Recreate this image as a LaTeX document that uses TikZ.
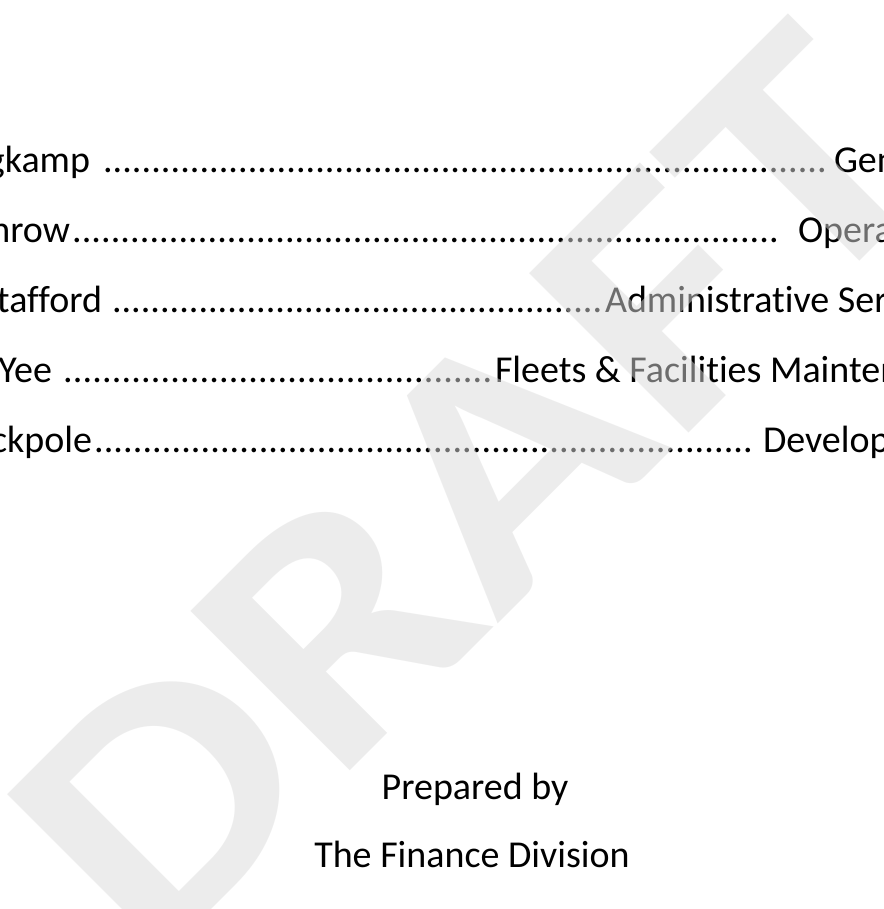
\documentclass[tikz,border=0pt]{standalone}
\usepackage{fontspec}
\setmainfont{Carlito}[Ligatures={NoCommon}]
\begin{document}
\begin{tikzpicture}[x=1pt,y=-1pt,
  txt/.style={inner sep=0pt,outer sep=0pt,font=\fontsize{38}{46}\selectfont,text=black},
  lead/.style={inner sep=0pt,outer sep=0pt,anchor=base west,font=\fontsize{38}{46}\selectfont},
  wmark/.style={inner sep=0pt,outer sep=0pt,rotate=45,xscale=1.04,yscale=0.88,font=\fontsize{395}{400}\selectfont\bfseries,text=black!14,text opacity=0.5}]
\useasboundingbox (0,0) rectangle (883,909);
\clip (0,0) rectangle (883,909);
\fill[white] (0,0) rectangle (883,909);
\newcommand{\dotrow}[1]{\hbox to #1pt{\xleaders\hbox{.}\hfill}}
% line 1
\node[txt,anchor=base east] (l1) at (90,172.5) {gkamp};
\node[lead] (d1) at (103,172.5) {\dotrow{725}};
\node[txt,anchor=base west] (r1) at (834,172.5) {Gen};
% line 2
\node[txt,anchor=base east] (l2) at (70,242.5) {hrow};
\node[lead] (d2) at (72,242.5) {\dotrow{708}};
\node[txt,anchor=base west] (r2) at (798,242.5) {Operations};
% line 3
\node[txt,anchor=base east] (l3) at (102,312.5) {tafford};
\node[lead] (d3) at (112,312.5) {\dotrow{491}};
\node[txt,anchor=base west] (r3) at (605,312.5) {Administrative Services};
% line 4
\node[txt,anchor=base east] (l4) at (52,382.5) {Yee};
\node[lead] (d4) at (63,382.5) {\dotrow{430}};
\node[txt,anchor=base west] (r4) at (495,382.5) {Fleets \& Facilities Maintenance};
% line 5
\node[txt,anchor=base east] (l5) at (92,452.5) {ckpole};
\node[lead] (d5) at (94,452.5) {\dotrow{660}};
\node[txt,anchor=base west] (r5) at (763,452.5) {Development};
% footer
\node[txt,anchor=base] (p1) at (475,799) {Prepared by};
\node[txt,anchor=base] (p2) at (472,867) {The Finance Division};
% watermark
\node[wmark] (wm) at (471,491) {DRAFT};
\end{tikzpicture}
\end{document}
